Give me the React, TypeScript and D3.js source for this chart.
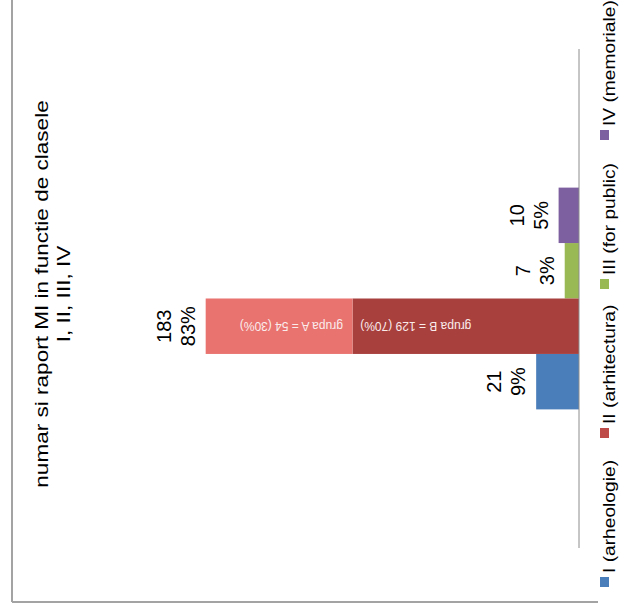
import React from "react";
import * as d3 from "d3";

const W = 627;
const H = 613;

const categories = ["MI"];
const seriesNames = ["I (arheologie)", "II (arhitectura)", "III (for public)", "IV (memoriale)"];
const seriesValues = [21, 183, 7, 10];
const seriesPercents = ["9%", "83%", "3%", "5%"];
const seriesColors = ["#4a7ebb", "#be4b48", "#98b954", "#7d60a0"];

// bar II is split into two groups (as drawn)
const splitLabels = ["grupa B = 129 (70%)", "grupa A = 54 (30%)"];
const splitValues = [111, 72];
const splitColors = ["#a8403e", "#e8736f"];
const splitLabelAt = [80, 141];

const titleLines = ["numar si raport  MI in functie de clasele", "I, II, III, IV"];
const valueDomain = [0, 200];

const FONT = "'Liberation Sans', Arial, sans-serif";

function SText({ x, y, sx = 1, size, anchor = "middle", fill = "#000", children }: any) {
  return (
    <g transform={`translate(${x},${y}) scale(${sx},1)`}>
      <text x={0} y={0} fontSize={size} textAnchor={anchor} fill={fill} fontFamily={FONT}>
        {children}
      </text>
    </g>
  );
}

export default function App() {
  // chart drawn in "upright" coordinates, then rotated -90deg
  const x0 = d3.scaleBand<string>().domain(categories).range([65, 564]);
  const bw = x0.bandwidth();
  const cx0 = x0(categories[0]) as number;
  const x1 = d3
    .scaleBand<string>()
    .domain(seriesNames)
    .range([cx0 + (bw * 2.5) / 9, cx0 + (bw * 6.5) / 9]);
  const y = d3.scaleLinear().domain(valueDomain).range([579, 171]);

  const legend = d3.scaleBand<string>().domain(seriesNames).range([26, 26 + 149 * 4]);

  const splitCum = d3.cumsum(splitValues);
  const splitStarts = splitCum.map((c, i) => c - splitValues[i]);
  const barII = seriesNames[1];

  const titleCenter = 319;

  return (
    <svg
      width={W}
      height={H}
      style={{ position: "absolute", left: 0, top: 0, background: "#fff" }}
    >
      <rect x={0} y={0} width={W} height={H} fill="#fff" />
      {/* frame */}
      <line x1={12} y1={0} x2={12} y2={602} stroke="#a3a3a3" strokeWidth={2} />
      <line x1={12} y1={602} x2={598} y2={602} stroke="#a3a3a3" strokeWidth={2} />

      <g transform={`translate(0,${H}) rotate(-90)`}>
        {/* title */}
        <SText x={titleCenter} y={48} sx={1.22} size={18.5}>
          {titleLines[0]}
        </SText>
        <SText x={titleCenter} y={70} sx={1.22} size={18.5}>
          {titleLines[1]}
        </SText>

        {/* bars */}
        {seriesNames.map((s, i) =>
          s === barII ? null : (
            <rect
              key={s}
              x={x1(s)}
              width={x1.bandwidth()}
              y={y(seriesValues[i])}
              height={y(0) - y(seriesValues[i])}
              fill={seriesColors[i]}
            />
          )
        )}
        {splitValues.map((v, j) => (
          <rect
            key={"split" + j}
            x={x1(barII)}
            width={x1.bandwidth()}
            y={y(splitCum[j])}
            height={y(splitStarts[j]) - y(splitCum[j])}
            fill={splitColors[j]}
          />
        ))}
        {splitLabels.map((t, j) => (
          <text
            key={"sl" + j}
            transform={`translate(${(x1(barII) as number) + x1.bandwidth() / 2},${y(splitLabelAt[j])}) rotate(-90)`}
            textAnchor="middle"
            dominantBaseline="central"
            fontSize={12}
            fontFamily={FONT}
            fill="#fbecec"
          >
            {t}
          </text>
        ))}

        {/* axis line */}
        <line x1={65} x2={564} y1={y(0)} y2={y(0)} stroke="#8c8c8c" strokeWidth={1} />

        {/* data labels */}
        {seriesNames.map((s, i) => {
          const cx = (x1(s) as number) + x1.bandwidth() / 2;
          const top = y(seriesValues[i]);
          return (
            <g key={"lab" + s}>
              <SText x={cx} y={top - 35} size={20}>
                {String(seriesValues[i])}
              </SText>
              <SText x={cx} y={top - 11} size={20}>
                {seriesPercents[i]}
              </SText>
            </g>
          );
        })}

        {/* legend */}
        {seriesNames.map((s, i) => {
          const lx = legend(s) as number;
          return (
            <g key={"leg" + s}>
              <rect x={lx} y={600} width={10} height={9} fill={seriesColors[i]} />
              <SText x={lx + 14} y={615} sx={1.2} size={16} anchor="start">
                {s}
              </SText>
            </g>
          );
        })}
      </g>
    </svg>
  );
}
